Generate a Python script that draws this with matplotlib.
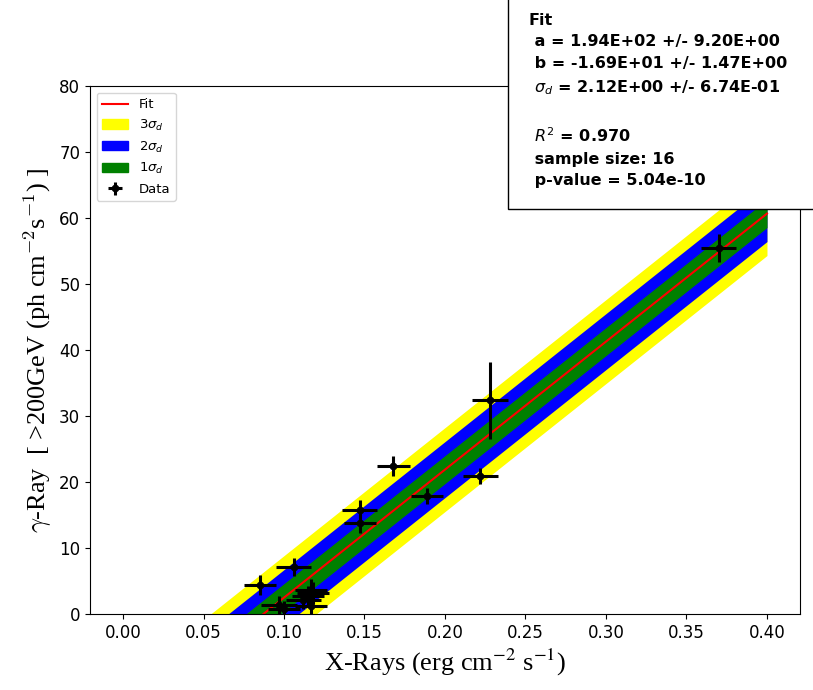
import numpy as np
import matplotlib.pyplot as plt
from matplotlib.patches import Patch

# fit parameters (from the box)
a_fit = 194.0
b_fit = -16.9
sig_d = 2.12

# data points
x = [0.370, 0.228, 0.168, 0.222, 0.189, 0.147, 0.147, 0.106,
     0.085, 0.097, 0.117, 0.115, 0.117, 0.112, 0.100, 0.118]
y = [55.5, 32.4, 22.4, 20.9, 17.9, 15.8, 13.8, 7.1,
     4.4, 1.4, 3.6, 2.8, 1.3, 2.2, 0.8, 3.2]
xerr = [0.011, 0.011, 0.010, 0.011, 0.010, 0.011, 0.010, 0.011,
        0.010, 0.011, 0.010, 0.010, 0.010, 0.011, 0.010, 0.010]
yerr = [2.1, 5.8, 1.5, 1.2, 1.2, 1.5, 1.5, 1.4,
        1.5, 1.4, 1.7, 1.5, 1.3, 1.5, 1.2, 1.6]

box_text = ("Fit\n"
            " a = 1.94E+02 +/- 9.20E+00\n"
            " b = -1.69E+01 +/- 1.47E+00  \n"
            " $\\sigma_d$ = 2.12E+00 +/- 6.74E-01\n"
            "\n"
            " $R^2$ = 0.970\n"
            " sample size: 16\n"
            " p-value = 5.04e-10")

plt.rcParams['font.size'] = 12

fig = plt.figure(figsize=(8.13, 6.9), dpi=100)
ax = fig.add_axes([0.1107, 0.110, 0.8733, 0.765])

xx = np.linspace(0, 0.4, 200)
yy = a_fit * xx + b_fit

ax.fill_between(xx, yy - 3 * sig_d, yy + 3 * sig_d, color='yellow', lw=0)
ax.fill_between(xx, yy - 2 * sig_d, yy + 2 * sig_d, color='blue', lw=0)
ax.fill_between(xx, yy - sig_d, yy + sig_d, color='green', lw=0)
fit_line, = ax.plot(xx, yy, color='red', lw=1.5)
data = ax.errorbar(x, y, xerr=xerr, yerr=yerr, fmt='o', color='black',
                   ms=4.5, elinewidth=2.2, capsize=0)

ax.set_ylim(0, 80)
ax.set_xlim(-0.0205, 0.4205)
ax.set_xticks(np.arange(0, 0.41, 0.05))

handles = [fit_line,
           Patch(color='yellow'), Patch(color='blue'), Patch(color='green'),
           data]
labels = ['Fit', '3$\\sigma_d$', '2$\\sigma_d$', '1$\\sigma_d$', 'Data']
ax.legend(handles, labels, loc='upper left', fontsize=9.5)

ax.set_xlabel('X-Rays (erg cm$^{-2}$ s$^{-1}$)', family='Liberation Serif',
              fontsize=19, math_fontfamily='stix')
ax.set_ylabel('$\\gamma$-Ray  [ >200GeV (ph cm$^{-2}$s$^{-1}$) ]',
              family='Liberation Serif', fontsize=19, math_fontfamily='cm')

fig.text(529 / 813, 1 - 13 / 690, box_text, ha='left', va='top',
         fontsize=11.5, fontweight='bold', linespacing=1.53,
         bbox=dict(facecolor='white', edgecolor='black',
                   boxstyle='square,pad=1.3'))

plt.savefig('out.png', dpi=100)
